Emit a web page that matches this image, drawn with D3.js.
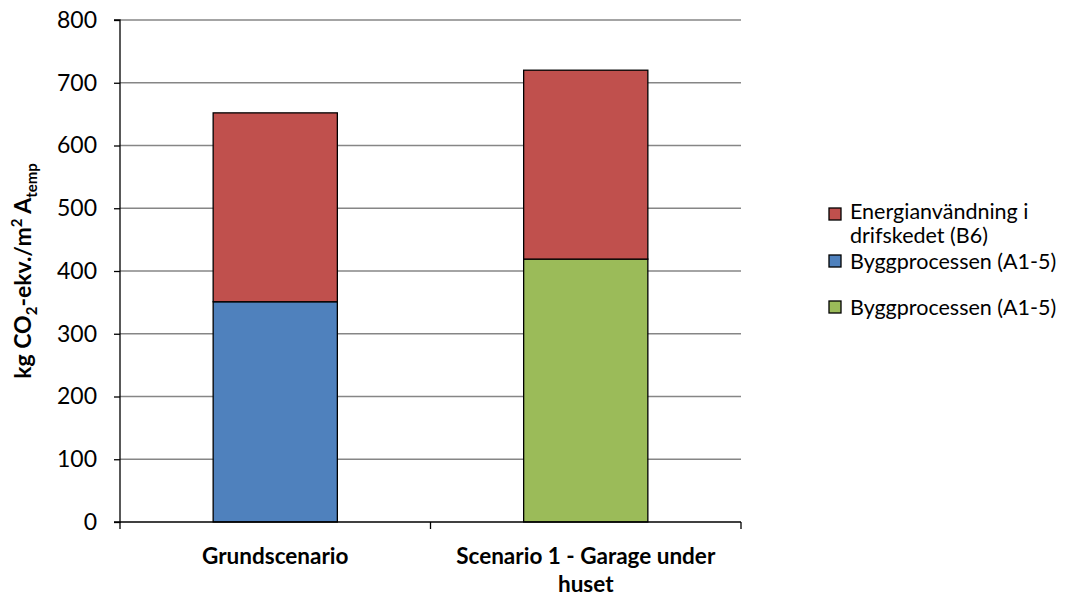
<!DOCTYPE html>
<html><head><meta charset="utf-8">
<script src="https://cdn.jsdelivr.net/npm/d3@7"></script>
<style>body{margin:0;background:#fff;} text{font-family:Lato,"Open Sans",sans-serif;}</style>
</head><body><svg id="c" width="1085" height="599"></svg>
<script>
const categories = ["Grundscenario", "Scenario 1 - Garage under huset"];
const categoryLines = [["Grundscenario"], ["Scenario 1 - Garage under", "huset"]];
const byggValues = [351, 419];
const energiValues = [301, 301];
const yTicks = [0,100,200,300,400,500,600,700,800];
const legendLabels = [["Energianvändning i","drifskedet (B6)"],["Byggprocessen (A1-5)"],["Byggprocessen (A1-5)"]];
const colors = {energi:"#C0504D", byggBlue:"#4F81BD", byggGreen:"#9BBB59"};

const svg = d3.select("#c");
const m = {l:120, r:741, t:20, b:522};
const x = d3.scaleBand().domain(categories).range([m.l, m.r]).paddingInner(0.6).paddingOuter(0.3);
const xo = d3.scaleBand().domain(categories).range([m.l, m.r]);
const y = d3.scaleLinear().domain([0,800]).range([m.b, m.t]);

svg.append("g").selectAll("line").data(yTicks.filter(d=>d>0)).join("line")
  .attr("x1", m.l).attr("x2", m.r).attr("y1", d=>y(d)).attr("y2", d=>y(d))
  .attr("stroke", "#868686").attr("stroke-width", 1.3);

const bygg = categories.map((c,i)=>({c, v0:0, v1:byggValues[i], fill: i===0?colors.byggBlue:colors.byggGreen}));
const energi = categories.map((c,i)=>({c, v0:byggValues[i], v1:byggValues[i]+energiValues[i], fill: colors.energi}));
svg.append("g").selectAll("rect").data(bygg.concat(energi)).join("rect")
  .attr("x", d=>x(d.c)).attr("width", x.bandwidth())
  .attr("y", d=>y(d.v1)).attr("height", d=>y(d.v0)-y(d.v1))
  .attr("fill", d=>d.fill).attr("stroke", "#000").attr("stroke-width", 1.3);

const ya = svg.append("g").attr("transform", `translate(${m.l},0)`)
  .call(d3.axisLeft(y).tickValues(yTicks).tickSize(6).tickPadding(17));
ya.select(".domain").attr("stroke","#000").attr("stroke-width",1.3).attr("d", `M-6,${m.b}H0V${m.t}H-6`);
ya.selectAll(".tick line").attr("stroke","#000").attr("stroke-width",1.3);
ya.selectAll(".tick text").attr("font-size", 23).attr("fill","#000").attr("font-family","Lato,sans-serif");

svg.append("line").attr("x1", m.l).attr("x2", m.r).attr("y1", m.b).attr("y2", m.b).attr("stroke","#000").attr("stroke-width",1.3);
const xt = [m.l].concat(categories.map(c=>xo(c)+xo.bandwidth()));
svg.append("g").selectAll("line").data(xt).join("line")
  .attr("x1", d=>d).attr("x2", d=>d).attr("y1", m.b).attr("y2", m.b+7).attr("stroke","#000").attr("stroke-width",1.3);
categories.forEach((c,i)=>{
  const cx = xo(c)+xo.bandwidth()/2;
  const t = svg.append("text").attr("x", cx).attr("y", 564)
    .attr("text-anchor","middle").attr("font-size",22.5).attr("font-weight","bold").attr("fill","#000");
  categoryLines[i].forEach((l,j)=>t.append("tspan").attr("x", cx).attr("dy", j===0?0:28).text(l));
});

const yt = svg.append("text").attr("transform","translate(31,271) rotate(-90)")
  .attr("text-anchor","middle").attr("font-size",23).attr("font-weight","bold").attr("fill","#000");
yt.append("tspan").text("kg CO");
yt.append("tspan").attr("font-size",15).attr("dy",6).text("2");
yt.append("tspan").attr("dy",-6).text("-ekv./m");
yt.append("tspan").attr("font-size",15).attr("dy",-9).text("2");
yt.append("tspan").attr("dy",9).text(" A");
yt.append("tspan").attr("font-size",15).attr("dy",6).text("temp");

const legY = [214, 261, 307];
const legFill = [colors.energi, colors.byggBlue, colors.byggGreen];
legendLabels.forEach((lines,i)=>{
  svg.append("rect").attr("x",829).attr("y",legY[i]-6).attr("width",12).attr("height",12)
    .attr("fill",legFill[i]).attr("stroke","#000").attr("stroke-width",1.3);
  const t = svg.append("text").attr("x",850).attr("y",legY[i]+(i===0?5:8)).attr("font-size",21.5).attr("fill","#000");
  lines.forEach((l,j)=>t.append("tspan").attr("x",850).attr("dy", j===0?0:24).text(l));
});
</script></body></html>
